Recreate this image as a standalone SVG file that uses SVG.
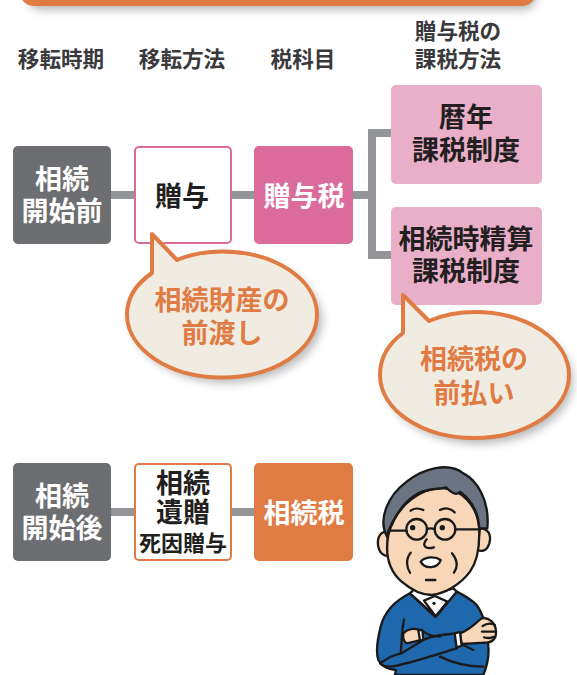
<svg xmlns="http://www.w3.org/2000/svg" width="577" height="675" viewBox="0 0 577 675">
<defs>
<filter id="shadow" x="-15%" y="-50%" width="130%" height="250%"><feGaussianBlur stdDeviation="4"/></filter>
</defs>
<style>
text{font-family:"Noto Sans CJK JP","Noto Sans CJK SC",sans-serif;font-weight:700;text-anchor:middle}
.head{font-size:21.6px;fill:#3a3a3c}
.lab{font-size:27px;fill:#fff}
.dark{font-size:27px;fill:#231f20}
.small{font-size:22px;fill:#231f20}
.call{font-size:27px;fill:#e07b43}
.grey{fill:#6d6e71}
.link{stroke:#939598;stroke-width:8;fill:none}
.bub{fill:#f1ece1;stroke:#e07b43;stroke-width:4;stroke-linejoin:round}
.shade{fill:#777;opacity:.5}
.ink{stroke:#1a1a1a;stroke-width:7;stroke-linecap:round;stroke-linejoin:round}
.skin{fill:#f8d6b8}
.knit{fill:#1f68ae}
</style>
<rect width="577" height="675" fill="#fff"/>
<g id="banner">
<rect x="24" y="-40" width="510" height="46" rx="14" class="shade" filter="url(#shadow)" transform="translate(3 4)"/>
<rect x="20" y="-40" width="516" height="46" rx="14" fill="#e07b43"/>
</g>
<g id="headings">
<text class="head" x="61" y="67">移転時期</text>
<text class="head" x="182" y="67">移転方法</text>
<text class="head" x="303" y="67">税科目</text>
<text class="head" x="458" y="39">贈与税の</text>
<text class="head" x="458" y="67">課税方法</text>
</g>
<g id="connectors">
<path class="link" d="M111 195H134M232 195H254M353 195H372M391 133H372V255H391"/>
<path class="link" d="M111 512H134M232 512H254"/>
</g>
<g id="before"><rect class="grey" x="13" y="146" width="98" height="98" rx="5"/><text class="lab" x="62" y="189">相続</text><text class="lab" x="62" y="221">開始前</text></g>
<g id="gift"><rect x="135" y="147" width="96" height="96" rx="4" fill="#fff" stroke="#db6b9b" stroke-width="2"/><text class="dark" x="182" y="206">贈与</text></g>
<g id="gift-tax"><rect x="254" y="146" width="99" height="98" rx="5" fill="#db6b9b"/><text class="lab" x="304" y="206">贈与税</text></g>
<g id="calendar"><rect x="391" y="85" width="151" height="99" rx="5" fill="#e9aec8"/><text class="dark" x="466" y="127">暦年</text><text class="dark" x="466" y="160">課税制度</text></g>
<g id="settlement"><rect x="391" y="207" width="151" height="98" rx="5" fill="#e9aec8"/><text class="dark" x="466" y="249">相続時精算</text><text class="dark" x="466" y="281">課税制度</text></g>
<g id="after"><rect class="grey" x="13" y="463" width="98" height="98" rx="5"/><text class="lab" x="62" y="506">相続</text><text class="lab" x="62" y="538">開始後</text></g>
<g id="inherit"><rect x="135" y="464" width="96" height="96" rx="4" fill="#fff" stroke="#e07b43" stroke-width="2"/><text class="dark" x="183" y="493">相続</text><text class="dark" x="183" y="522">遺贈</text><text class="small" x="183" y="551">死因贈与</text></g>
<g id="inherit-tax"><rect x="254" y="463" width="99" height="98" rx="5" fill="#e07b43"/><text class="lab" x="304" y="523">相続税</text></g>
<g id="note-advance">
<ellipse class="shade" cx="227" cy="320" rx="95" ry="63" filter="url(#shadow)"/>
<path class="bub" d="M152 234L177 260C191 254 206 251.500 222 251.500C274.500 251.500 317 279.700 317 314.500C317 349.300 274.500 377.500 222 377.500C169.500 377.500 127 349.300 127 314.500C127 298 136 284 152 273Z"/>
<text class="call" x="222" y="310">相続財産の</text><text class="call" x="222" y="343">前渡し</text></g>
<g id="note-prepay">
<ellipse class="shade" cx="479" cy="381" rx="94" ry="63" filter="url(#shadow)"/>
<path class="bub" d="M403 295L429 321C443 315 458 312 474.500 312C526.700 312 569 340 569 375C569 410 526.700 438 474.500 438C422.300 438 380 410 380 375C380 358 388 344 403 333Z"/>
<text class="call" x="474" y="369">相続税の</text><text class="call" x="474" y="403">前払い</text></g>
<g id="man" transform="translate(360 460) scale(.3333)">
<!-- torso and far sleeve -->
<path class="ink knit" d="M150 400C110 420 75 450 62 500C52 540 48 580 55 600C65 620 85 628 108 630L104 650V645H370C380 620 388 590 385 560C383 520 375 470 350 435C330 415 310 405 290 395L225 470Z"/>
<!-- collar -->
<path class="ink" fill="#fff" d="M150 400L165 385L210 405L280 385L290 395L228 470ZM192 422L228 470L262 425L225 408Z"/>
<circle cx="222" cy="430" r="5" fill="#1a1a1a"/>
<!-- ears -->
<path class="ink skin" d="M80 215C60 215 50 235 55 260C60 285 80 292 90 285ZM360 205C385 205 395 225 388 250C380 275 365 275 350 270Z"/>
<!-- face -->
<path class="ink skin" d="M85 225C75 280 85 330 125 365C160 395 190 405 215 405C255 400 300 375 330 335C355 300 360 250 357 200C350 130 300 90 255 85C190 80 110 130 85 225Z"/>
<!-- hair -->
<path class="ink" fill="#6b7482" d="M80 228C55 180 80 110 140 65C190 25 265 5 310 40C350 60 390 120 382 205L358 205C355 160 335 120 300 95C290 110 270 95 258 82C240 88 200 85 175 100C135 120 100 170 80 228Z"/>
<!-- glasses -->
<circle class="ink" cx="170" cy="208" r="31" fill="none"/>
<circle class="ink" cx="255" cy="208" r="31" fill="none"/>
<path class="ink" fill="none" d="M85 212H139M201 208C208 204 216 204 224 208M286 208H357"/>
<circle cx="158" cy="203" r="8" fill="#1a1a1a"/><circle cx="247" cy="203" r="8" fill="#1a1a1a"/>
<!-- brows, nose, cheeks, mouth -->
<path class="ink" fill="none" d="M152 152C162 144 178 144 190 150M240 150C255 142 272 145 284 157M200 238C185 255 195 270 222 262M152 278C138 295 138 320 150 338M276 280C292 300 296 318 282 338M198 360H226"/>
<path class="ink" fill="#fff" d="M182 305C195 290 225 288 242 300C235 325 195 330 182 305Z"/>
<!-- folded arms -->
<path class="ink" fill="none" d="M132 478C125 510 125 560 122 580"/>
<path class="ink skin" d="M130 520C145 505 165 505 178 510L185 540L140 550C130 545 128 530 130 520Z"/>
<path class="ink" fill="#fff" d="M175 510L187 510L190 540L180 542Z"/>
<path class="ink skin" d="M300 520C330 510 345 490 365 475C385 470 408 490 408 515C410 535 395 550 375 548L305 552Z"/>
<path class="ink" fill="none" d="M368 498C380 490 395 490 405 495M366 515H408M372 532C385 535 395 535 402 530"/>
<path class="ink knit" d="M60 610C90 590 100 585 125 580L190 540C215 525 260 525 285 520L290 565C240 580 180 600 130 612C105 620 75 625 60 610Z"/>
<path class="ink" fill="#fff" d="M284 520L300 516L305 558L290 562Z"/>
<path class="ink" fill="none" d="M190 515C205 525 225 530 240 530M240 590C280 610 330 620 370 620M310 555L340 570"/>
</g>
</svg>
